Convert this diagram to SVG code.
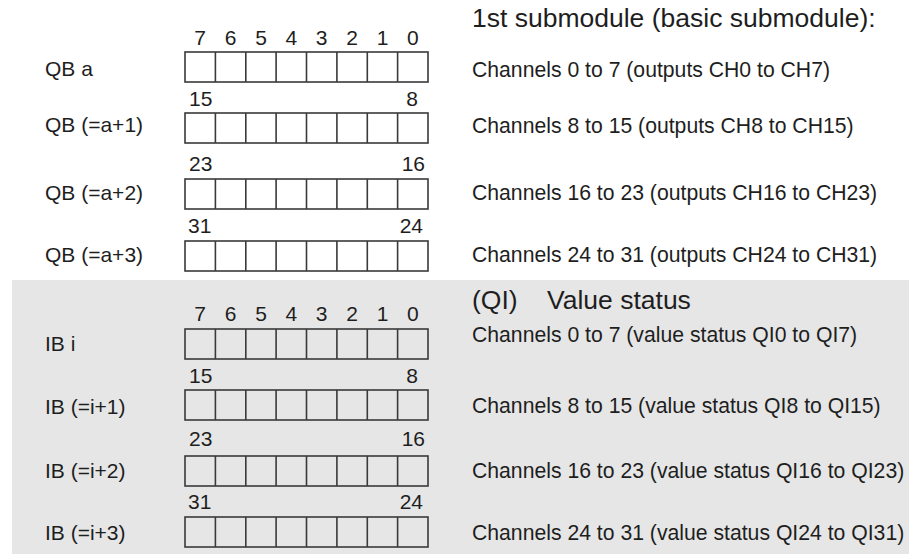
<svg xmlns="http://www.w3.org/2000/svg" width="909" height="554" viewBox="0 0 909 554">
<defs>
<style>
text{font-family:"Liberation Sans",Arial,sans-serif;fill:#1e1e1e}
.lbl{font-size:21px}
.ch{font-size:21.2px}
.hd{font-size:26.5px}
.bit{font-size:21px;text-anchor:middle}
.num{font-size:21px}
.e{text-anchor:end}
.box{fill:none;stroke:#3a3a3a;stroke-width:1.6}
.div{stroke:#3a3a3a;stroke-width:1.6}
</style>
<g id="reg">
<rect class="box" x="185" y="0" width="243" height="30"/>
<path class="div" d="M215.4 0V30M245.8 0V30M276.1 0V30M306.5 0V30M336.9 0V30M367.3 0V30M397.6 0V30"/>
</g>
</defs>
<rect x="0" y="0" width="909" height="554" fill="#ffffff"/>
<rect id="status-area" x="12" y="280" width="897" height="274" fill="#e6e6e6"/>

<g id="header-outputs"><text class="hd" x="472" y="27">1st submodule (basic submodule):</text></g>
<g id="header-status"><text class="hd" x="472" y="309">(QI)<tspan x="547">Value status</tspan></text></g>

<g id="bits-top">
<text class="bit" x="200.2" y="44.5">7</text><text class="bit" x="230.6" y="44.5">6</text><text class="bit" x="261" y="44.5">5</text><text class="bit" x="291.3" y="44.5">4</text><text class="bit" x="321.7" y="44.5">3</text><text class="bit" x="352.1" y="44.5">2</text><text class="bit" x="382.5" y="44.5">1</text><text class="bit" x="412.8" y="44.5">0</text>
</g>

<g id="QBa"><text class="lbl" x="45" y="76">QB a</text><use href="#reg" x="0" y="52"/><text class="ch" x="472" y="77">Channels 0 to 7 (outputs CH0 to CH7)</text></g>
<g id="QBa1"><text class="num" x="189" y="106">15</text><text class="num e" x="418" y="106">8</text><text class="lbl" x="45" y="132">QB (=a+1)</text><use href="#reg" x="0" y="113"/><text class="ch" x="472" y="133">Channels 8 to 15 (outputs CH8 to CH15)</text></g>
<g id="QBa2"><text class="num" x="189" y="171">23</text><text class="num e" x="425" y="171">16</text><text class="lbl" x="45" y="200">QB (=a+2)</text><use href="#reg" x="0" y="179"/><text class="ch" x="472" y="200">Channels 16 to 23 (outputs CH16 to CH23)</text></g>
<g id="QBa3"><text class="num" x="188" y="233">31</text><text class="num e" x="423" y="233">24</text><text class="lbl" x="45" y="262">QB (=a+3)</text><use href="#reg" x="0" y="241"/><text class="ch" x="472" y="262">Channels 24 to 31 (outputs CH24 to CH31)</text></g>

<g id="bits-bottom">
<text class="bit" x="200.2" y="321">7</text><text class="bit" x="230.6" y="321">6</text><text class="bit" x="261" y="321">5</text><text class="bit" x="291.3" y="321">4</text><text class="bit" x="321.7" y="321">3</text><text class="bit" x="352.1" y="321">2</text><text class="bit" x="382.5" y="321">1</text><text class="bit" x="412.8" y="321">0</text>
</g>

<g id="IBi"><text class="lbl" x="45" y="351">IB i</text><use href="#reg" x="0" y="329"/><text class="ch" x="472" y="342">Channels 0 to 7 (value status QI0 to QI7)</text></g>
<g id="IBi1"><text class="num" x="189" y="383">15</text><text class="num e" x="418" y="383">8</text><text class="lbl" x="45" y="414">IB (=i+1)</text><use href="#reg" x="0" y="390"/><text class="ch" x="472" y="413">Channels 8 to 15 (value status QI8 to QI15)</text></g>
<g id="IBi2"><text class="num" x="189" y="446">23</text><text class="num e" x="425" y="446">16</text><text class="lbl" x="45" y="478">IB (=i+2)</text><use href="#reg" x="0" y="456"/><text class="ch" x="472" y="478">Channels 16 to 23 (value status QI16 to QI23)</text></g>
<g id="IBi3"><text class="num" x="188" y="509">31</text><text class="num e" x="423" y="509">24</text><text class="lbl" x="45" y="540">IB (=i+3)</text><use href="#reg" x="0" y="517"/><text class="ch" x="472" y="540">Channels 24 to 31 (value status QI24 to QI31)</text></g>
</svg>
